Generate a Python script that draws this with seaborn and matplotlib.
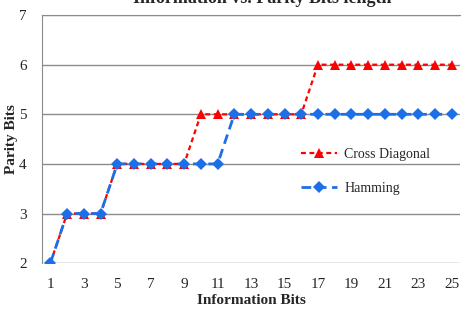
import pandas as pd
import numpy as np
import matplotlib.pyplot as plt
import seaborn as sns

# données
info_bits = list(range(1, 26))
cross_diag = [2, 3, 3, 3, 4, 4, 4, 4, 4, 5, 5, 5, 5, 5, 5, 5, 6, 6, 6, 6, 6, 6, 6, 6, 6]
hamming = [2, 3, 3, 3, 4, 4, 4, 4, 4, 4, 4, 5, 5, 5, 5, 5, 5, 5, 5, 5, 5, 5, 5, 5, 5]
x_ticks = list(range(1, 26, 2))
y_ticks = [2, 3, 4, 5, 6, 7]

df = pd.DataFrame({'info': info_bits, 'cross': cross_diag, 'ham': hamming})

sns.set_style('white')
plt.rcParams['font.family'] = ['Liberation Serif', 'DejaVu Serif']

fig, ax = plt.subplots(figsize=(4.69, 3.14), dpi=100)
fig.subplots_adjust(left=0.0896, right=0.981, top=0.952, bottom=0.162)

red = '#ff0000'
blue = '#1c6fe6'

sns.lineplot(x='info', y='cross', data=df, ax=ax, color=red, marker='^',
             markersize=7.5, markeredgewidth=0, linewidth=1.6,
             label='Cross Diagonal', zorder=3)
ax.lines[-1].set_dashes((2.2, 1.6))
sns.lineplot(x='info', y='ham', data=df, ax=ax, color=blue, marker='D',
             markersize=6, markeredgewidth=0, linewidth=2.0,
             label='Hamming', zorder=4)
ax.lines[-1].set_dashes((3.5, 2.0))

ax.set_xlim(0.5, 25.5)
ax.set_ylim(2, 7)
ax.set_xticks(x_ticks)
ax.set_yticks(y_ticks)
ax.tick_params(axis='both', labelsize=11, length=0)
ax.tick_params(axis='x', pad=11)
ax.tick_params(axis='y', pad=11)
ax.grid(axis='y', color='#8c8c8c', linewidth=1)
ax.set_axisbelow(True)
for s in ['right', 'bottom']:
    ax.spines[s].set_visible(False)
ax.spines['top'].set_color('#8c8c8c')
ax.spines['left'].set_color('#8c8c8c')

ax.set_xlabel('Information Bits', fontsize=11, fontweight='bold', labelpad=2)
ax.set_ylabel('Parity Bits', fontsize=11, fontweight='bold', labelpad=1)

fig.text(0.56, 1 - 3 / 314, 'Information vs. Parity Bits length', ha='center',
         va='baseline', fontsize=13, fontweight='bold')

ax.legend(loc='center left', bbox_to_anchor=(0.59, 0.37), frameon=False,
          fontsize=10, labelspacing=1.5, handlelength=2.6, handletextpad=0.5)

plt.savefig('out.png', dpi=100)
